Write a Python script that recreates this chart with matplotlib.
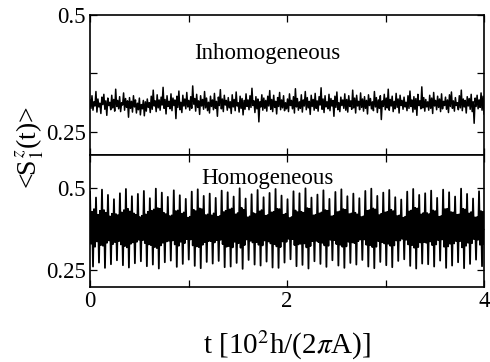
import numpy as np
import matplotlib
matplotlib.use("Agg")
import matplotlib.pyplot as plt
from matplotlib.ticker import MultipleLocator

plt.rcParams['font.family'] = ['Liberation Serif', 'DejaVu Serif']
plt.rcParams['mathtext.fontset'] = 'stix'

# <S_1^z(t)>, in units of 1e-3, evenly spaced over t = 0..4
inhomogeneous = [
    318, 300, 327, 296, 314, 305, 336, 292, 320, 303, 311, 289, 324, 308, 330, 298, 316, 285, 322, 306,
    313, 297, 328, 301, 319, 294, 341, 304, 317, 299, 325, 293, 312, 307, 333, 296, 321, 302, 316, 281,
    323, 300, 315, 292, 327, 303, 318, 290, 311, 297, 322, 286, 308, 299, 317, 284, 314, 294, 320, 302,
    312, 291, 326, 298, 339, 305, 316, 293, 329, 301, 318, 296, 324, 307, 345, 300, 319, 288, 327, 304,
    315, 299, 331, 295, 322, 306, 318, 278, 326, 302, 337, 297, 313, 291, 328, 305, 320, 299, 334, 303,
    317, 296, 325, 300, 348, 309, 321, 294, 330, 302, 316, 287, 327, 305, 319, 298, 336, 301, 322, 295,
    313, 290, 326, 304, 318, 297, 332, 300, 315, 283, 324, 306, 340, 299, 320, 293, 328, 307, 317, 296,
    323, 301, 314, 289, 329, 303, 319, 295, 335, 305, 312, 292, 326, 300, 321, 286, 317, 298, 331, 304,
    318, 297, 327, 302, 343, 306, 316, 291, 325, 299, 320, 271, 314, 303, 329, 296, 322, 300, 317, 294,
    326, 305, 338, 298, 319, 293, 328, 302, 315, 288, 323, 304, 334, 297, 318, 301, 327, 295, 312, 299,
    320, 293, 331, 306, 317, 299, 325, 290, 342, 303, 321, 296, 314, 300, 329, 292, 318, 305, 336, 297,
    323, 301, 315, 287, 328, 304, 319, 296, 332, 300, 316, 294, 325, 307, 344, 298, 320, 291, 327, 303,
    314, 299, 330, 295, 321, 305, 317, 283, 326, 302, 335, 297, 312, 293, 324, 306, 318, 300, 331, 296,
    319, 292, 327, 304, 316, 298, 339, 301, 322, 290, 328, 305, 315, 297, 333, 302, 320, 294, 325, 300,
    317, 288, 329, 306, 321, 299, 314, 295, 336, 303, 323, 291, 318, 300, 327, 276, 316, 304, 330, 297,
    322, 301, 341, 296, 319, 305, 326, 293, 315, 299, 332, 302, 320, 290, 328, 306, 317, 298, 324, 303,
    313, 295, 327, 300, 337, 304, 318, 292, 325, 298, 321, 285, 330, 306, 316, 299, 346, 301, 323, 294,
    319, 303, 314, 296, 328, 300, 322, 289, 334, 305, 317, 297, 326, 302, 320, 293, 331, 299, 315, 306,
    324, 298, 318, 291, 329, 304, 335, 300, 316, 294, 323, 306, 312, 297, 327, 301, 339, 295, 320, 303,
    317, 290, 325, 305, 321, 298, 330, 293, 314, 268, 322, 304, 328, 299, 318, 302, 333, 296, 326, 288,
]

homogeneous = [
    488, 331, 428, 262, 436, 322, 471, 338, 419, 274, 431, 327,
    495, 325, 433, 258, 425, 334, 479, 341, 414, 269, 422, 330,
    466, 336, 421, 281, 418, 339, 484, 329, 426, 266, 433, 324,
    497, 320, 437, 259, 429, 331, 475, 335, 423, 272, 419, 337,
    482, 343, 412, 278, 416, 342, 491, 333, 420, 263, 428, 329,
    469, 327, 431, 268, 435, 321, 498, 318, 439, 256, 437, 326,
    486, 334, 425, 275, 421, 338, 473, 340, 415, 280, 417, 341,
    493, 329, 430, 261, 432, 325, 478, 337, 422, 270, 426, 333,
    467, 345, 410, 283, 413, 344, 489, 326, 434, 264, 430, 323,
    496, 321, 438, 257, 436, 328, 476, 336, 418, 276, 420, 339,
    483, 339, 417, 271, 423, 335, 470, 342, 413, 279, 415, 343,
    492, 330, 427, 260, 431, 322, 487, 324, 435, 262, 438, 320,
    474, 337, 420, 273, 424, 333, 499, 319, 440, 255, 434, 327,
    468, 344, 411, 282, 414, 340, 481, 335, 424, 268, 421, 336,
    494, 328, 429, 265, 433, 326, 472, 341, 416, 277, 418, 338,
    485, 332, 426, 259, 428, 330, 497, 323, 437, 258, 436, 321,
    477, 338, 419, 274, 422, 337, 466, 346, 409, 284, 412, 345,
    490, 327, 432, 263, 427, 329, 484, 331, 428, 267, 425, 332,
    499, 320, 439, 256, 437, 324, 471, 339, 417, 278, 419, 340,
    480, 336, 423, 270, 426, 334, 493, 326, 433, 261, 431, 325,
    467, 343, 414, 281, 416, 342, 488, 330, 427, 265, 429, 328,
    496, 322, 436, 258, 434, 323, 475, 337, 421, 273, 423, 335,
    483, 333, 425, 268, 420, 339, 469, 344, 412, 282, 414, 344,
    491, 328, 431, 262, 433, 327, 498, 321, 438, 257, 435, 322,
    476, 339, 418, 276, 422, 336, 486, 332, 426, 266, 428, 331,
    494, 325, 434, 260, 430, 326, 472, 341, 415, 279, 417, 341,
    465, 346, 410, 284, 413, 343, 489, 329, 429, 264, 432, 327,
    497, 319, 440, 256, 438, 321, 479, 335, 420, 271, 424, 336,
    484, 334, 424, 269, 421, 338, 492, 327, 432, 262, 430, 329,
    470, 342, 413, 280, 415, 344, 495, 322, 436, 258, 437, 323,
    487, 331, 427, 265, 426, 332, 474, 339, 419, 275, 420, 339,
    498, 320, 437, 257, 435, 325, 482, 334, 423, 270, 427, 333,
    468, 345, 411, 283, 412, 343, 490, 328, 430, 263, 428, 330,
]

panel_labels = ["Inhomogeneous", "Homogeneous"]
t_max = 4.0

fig = plt.figure(figsize=(4.9, 3.62), dpi=100)
ax_top = fig.add_axes([0.1837, 0.5718, 0.8041, 0.3868])
ax_bot = fig.add_axes([0.1837, 0.2072, 0.8041, 0.3646], sharex=ax_top)

for ax, vals, label, ylim, label_y, lw in [
    (ax_top, inhomogeneous, panel_labels[0], (0.2, 0.5), 0.406, 1.1),
    (ax_bot, homogeneous, panel_labels[1], (0.2, 0.6), 0.513, 1.3),
]:
    y = np.array(vals) / 1000.0
    t = np.linspace(0, t_max, len(y))
    ax.plot(t, y, color='black', lw=lw)
    ax.set_xlim(0, t_max)
    ax.set_ylim(*ylim)
    ax.text(1.8, label_y, label, ha='center', va='baseline', fontsize=16.5)
    ax.xaxis.set_major_locator(MultipleLocator(2))
    ax.xaxis.set_minor_locator(MultipleLocator(1))
    ax.set_yticks([0.25, 0.5])
    ax.set_yticklabels(['0.25', '0.5'])
    ax.yaxis.set_minor_locator(MultipleLocator(0.125))
    ax.tick_params(which='both', direction='in', top=True, right=True,
                   length=5, width=0.9, labelsize=16.5, pad=3)
    for s in ax.spines.values():
        s.set_linewidth(1.2)

ax_top.tick_params(labelbottom=False)
ax_bot.set_xticks([0, 2, 4])
ax_bot.set_xticklabels(['0', '2', '4'])

ax_bot.set_xlabel(r't [10$^2$h/(2$\pi$A)]', fontsize=21, labelpad=12)
fig.text(0.062, 1 - 148 / 362, r'<S$_1^{\,z}$(t)>', rotation=90,
         ha='center', va='center', fontsize=20)

fig.savefig("out.png", dpi=100)
